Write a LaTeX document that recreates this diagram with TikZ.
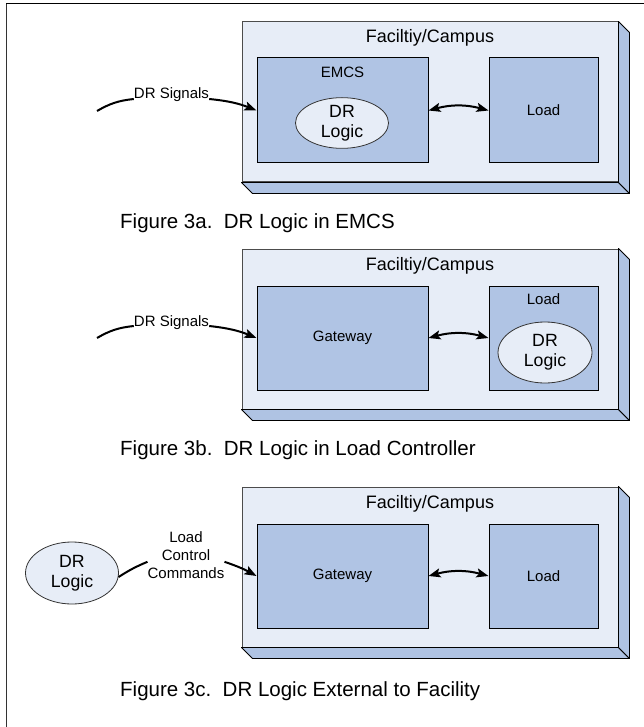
\documentclass[tikz,border=0pt]{standalone}
\usepackage{fontspec}
\setmainfont{Liberation Sans}
\usetikzlibrary{shapes.geometric,arrows.meta,calc}
\definecolor{front}{HTML}{E7EDF7}
\definecolor{sidec}{HTML}{AFC3E3}
\definecolor{boxc}{HTML}{B0C4E4}
\begin{document}
\begin{tikzpicture}[x=1pt,y=-1pt,
  fac/.style={rectangle, draw=black!70, fill=front, line width=1pt, minimum width=376pt, minimum height=160pt, inner sep=0pt},
  sideface/.style={fill=sidec, draw=black, line width=0.9pt, line join=round},
  inbox/.style={rectangle, draw=black, fill=boxc, line width=1pt, inner sep=0pt, font=\fontsize{15}{18}\selectfont},
  ell/.style={ellipse, draw=black!80, fill=front, line width=0.8pt, inner sep=0pt, align=center, font=\fontsize{17.7}{20}\selectfont},
  lbl/.style={inner sep=0pt, align=center, font=\fontsize{15}{18}\selectfont},
  factxt/.style={inner sep=0pt, anchor=base, font=\fontsize{18}{20}\selectfont},
  captxt/.style={inner sep=0pt, anchor=base west, font=\fontsize{20.5}{24}\selectfont},
  wire/.style={line width=2pt},
  sig/.style={line width=2pt, -{Stealth[length=12pt,width=9pt,inset=2.5pt]}},
  dbl/.style={line width=2pt, {Stealth[length=12pt,width=9pt,inset=2.5pt]}-{Stealth[length=12pt,width=9pt,inset=2.5pt]}}
]
\useasboundingbox (0,0) rectangle (644,727);
% outer frame
\draw[black!80, line width=1.5pt] (6.7,727) -- (6.7,3.3);
\draw[black, line width=1.3pt] (6,3.3) -- (644,3.3);

% ---------- Panel a ----------
\node[fac] (f1) at (430,102) {};
\draw[sideface] (f1.south west) -- (f1.south east) -- ++(11,11) -- ($(f1.south west)+(11,11)$) -- cycle;
\draw[sideface] (f1.north east) -- ++(11,11) -- ($(f1.south east)+(11,11)$) -- (f1.south east) -- cycle;
\node[factxt] (f1t) at (430,43) {Faciltiy/Campus};
\node[inbox, minimum width=171pt, minimum height=105pt] (emcs) at (342.5,110.5) {};
\node[lbl, anchor=base] (emcst) at (342.5,78) {EMCS};
\node[ell, minimum width=93pt, minimum height=50pt] (drl1) at (342,123) {DR\\Logic};
\node[inbox, minimum width=109pt, minimum height=105pt] (load1) at (543.5,110.5) {Load};
\draw[dbl] (emcs.east) to[bend left=15] (load1.west);
\coordinate (s1) at (97,111);
\node[lbl, anchor=base] (sig1) at (171.5,99) {DR Signals};
\draw[wire] (s1) to[bend left=12] (sig1.base west);
\draw[sig] (sig1.base east) to[bend left=8] (emcs.west);
\node[captxt] (cap1) at (120,228) {Figure 3a.\ \ DR Logic in EMCS};

% ---------- Panel b ----------
\node[fac] (f2) at (430,329) {};
\draw[sideface] (f2.south west) -- (f2.south east) -- ++(11,11) -- ($(f2.south west)+(11,11)$) -- cycle;
\draw[sideface] (f2.north east) -- ++(11,11) -- ($(f2.south east)+(11,11)$) -- (f2.south east) -- cycle;
\node[factxt] (f2t) at (430,270) {Faciltiy/Campus};
\node[inbox, minimum width=171pt, minimum height=104pt] (gw2) at (342.5,338) {Gateway};
\node[inbox, minimum width=109pt, minimum height=104pt] (load2) at (543.5,338) {};
\node[lbl, anchor=base] (load2t) at (543.5,304) {Load};
\node[ell, minimum width=94pt, minimum height=61pt] (drl2) at (545,352.5) {DR\\Logic};
\draw[dbl] (gw2.east) to[bend left=15] (load2.west);
\coordinate (s2) at (97,338);
\node[lbl, anchor=base] (sig2) at (171.5,326) {DR Signals};
\draw[wire] (s2) to[bend left=12] (sig2.base west);
\draw[sig] (sig2.base east) to[bend left=8] (gw2.west);
\node[captxt] (cap2) at (120,455) {Figure 3b.\ \ DR Logic in Load Controller};

% ---------- Panel c ----------
\node[fac] (f3) at (430,567) {};
\draw[sideface] (f3.south west) -- (f3.south east) -- ++(11,11) -- ($(f3.south west)+(11,11)$) -- cycle;
\draw[sideface] (f3.north east) -- ++(11,11) -- ($(f3.south east)+(11,11)$) -- (f3.south east) -- cycle;
\node[factxt] (f3t) at (430,508) {Faciltiy/Campus};
\node[inbox, minimum width=171pt, minimum height=104pt] (gw3) at (342.5,576) {Gateway};
\node[inbox, minimum width=109pt, minimum height=104pt] (load3) at (543.5,576) {Load};
\draw[dbl] (gw3.east) to[bend left=15] (load3.west);
\node[ell, minimum width=93pt, minimum height=62pt] (drl3) at (72,573) {DR\\Logic};
\node[lbl] (lcc) at (186,555) {Load\\Control\\Commands};
\draw[wire] (drl3.-5) to[bend left=5] (lcc.190);
\draw[sig] (lcc.-10) to[bend left=5] (gw3.west);
\node[captxt] (cap3) at (120,696) {Figure 3c.\ \ DR Logic External to Facility};
\end{tikzpicture}
\end{document}
